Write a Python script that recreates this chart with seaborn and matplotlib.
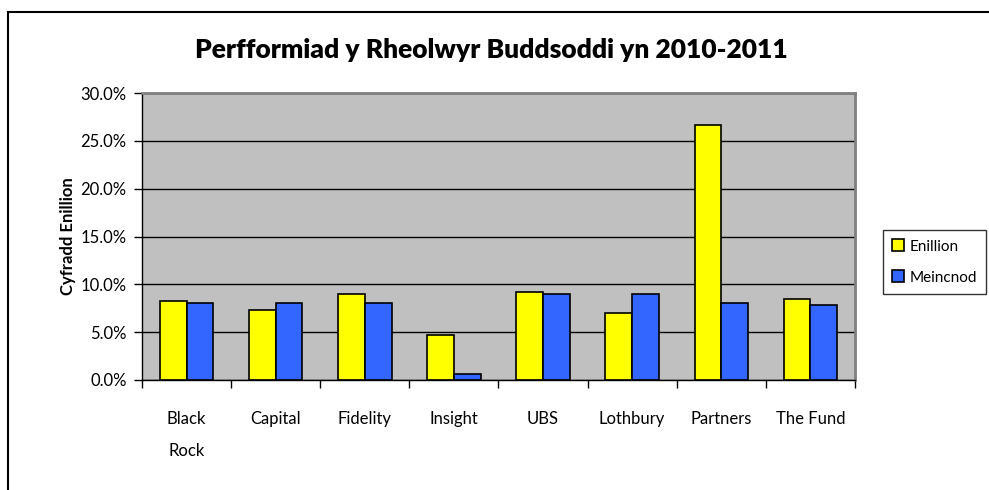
import numpy as np
import pandas as pd
import matplotlib
matplotlib.use("Agg")
import matplotlib.pyplot as plt
from matplotlib.patches import Rectangle
from matplotlib.ticker import FuncFormatter, FixedLocator
import seaborn as sns

managers = ["Black\nRock", "Capital", "Fidelity", "Insight", "UBS", "Lothbury", "Partners", "The Fund"]
enillion = [8.3, 7.3, 9.0, 4.7, 9.2, 7.0, 26.7, 8.5]
meincnod = [8.0, 8.0, 8.0, 0.6, 9.0, 9.0, 8.0, 7.8]
series = ["Enillion", "Meincnod"]
colors = ["#FFFF00", "#3366FF"]

df = pd.DataFrame({
    "manager": managers * 2,
    "value": enillion + meincnod,
    "series": [series[0]] * len(managers) + [series[1]] * len(managers),
})

sns.set_style("white")
plt.rcParams["font.family"] = ["Lato", "DejaVu Sans"]
plt.rcParams["text.color"] = "black"
plt.rcParams["axes.labelcolor"] = "black"
plt.rcParams["xtick.color"] = "black"
plt.rcParams["ytick.color"] = "black"

fig = plt.figure(figsize=(9.89, 4.9), dpi=100)
ax = fig.add_axes([142 / 989, 1 - 380 / 490, (855 - 142) / 989, (380 - 93) / 490])

sns.barplot(data=df, x="manager", y="value", hue="series", palette=colors, saturation=1,
            width=0.6, edgecolor="black", linewidth=1.2, ax=ax, legend=True)

ax.set_facecolor("#C0C0C0")
ax.set_ylim(0, 30)
ax.set_xlim(-0.5, len(managers) - 0.5)
ax.set_yticks(np.arange(0, 30.1, 5))
ax.yaxis.set_major_formatter(FuncFormatter(lambda v, p: f"{v:.1f}%"))
ax.yaxis.grid(True, color="black", linewidth=1)
ax.set_axisbelow(True)

ax.xaxis.set_minor_locator(FixedLocator(np.arange(-0.5, len(managers), 1)))
ax.tick_params(axis="x", which="major", length=0, pad=22, labelsize=12)
ax.tick_params(axis="x", which="minor", length=6, width=1, direction="out", bottom=True)
ax.tick_params(axis="y", length=6, width=1, direction="out", left=True, labelsize=12, pad=5)
for lbl in ax.get_xticklabels():
    lbl.set_linespacing(2.3)
    lbl.set_va("top")

for side in ["top", "right"]:
    ax.spines[side].set_color("#808080")
    ax.spines[side].set_linewidth(2)
for side in ["left", "bottom"]:
    ax.spines[side].set_color("black")
    ax.spines[side].set_linewidth(1)

ax.set_xlabel("")
ax.set_ylabel("Cyfradd Enillion", fontsize=12, fontweight="bold", labelpad=3)

fig.text(491 / 989, 1 - 50 / 490, "Perfformiad y Rheolwyr Buddsoddi yn 2010-2011",
         ha="center", va="center", fontsize=19, fontweight="heavy")

leg = ax.legend(loc="center left", bbox_to_anchor=(883 / 989, 1 - 262 / 490),
                bbox_transform=fig.transFigure, frameon=True, fancybox=False,
                edgecolor="black", fontsize=11, handlelength=0.8, handleheight=0.8,
                labelspacing=1.1, borderpad=0.6, handletextpad=0.35, borderaxespad=0)
leg.get_frame().set_linewidth(1)
for h in leg.legend_handles:
    h.set_edgecolor("black")
    h.set_linewidth(1.2)

fig.patches.append(Rectangle((8 / 989, -0.1), 1.2, 1 - 12 / 490 + 0.1, transform=fig.transFigure,
                             fill=False, edgecolor="black", linewidth=1.5))

fig.savefig("out.png", dpi=100)
